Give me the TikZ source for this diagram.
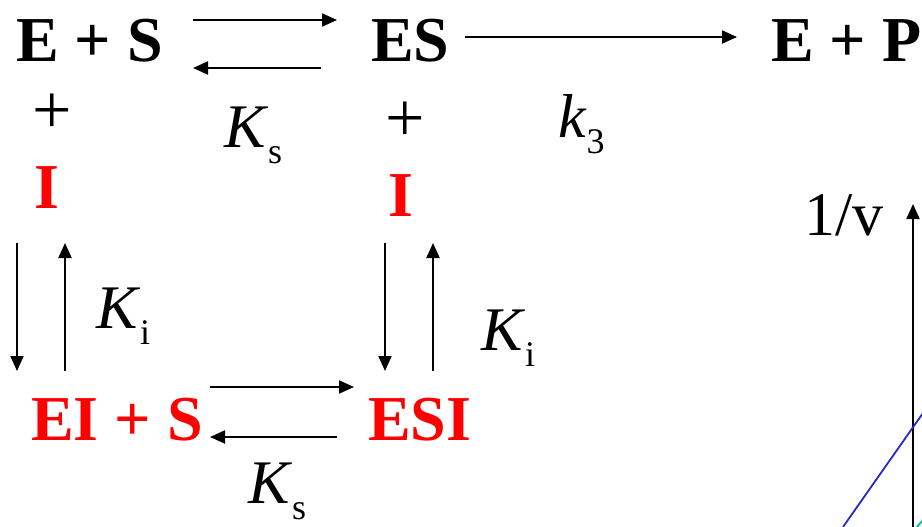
\documentclass[tikz,border=0pt]{standalone}
\usepackage{fontspec}
\setmainfont{Liberation Serif}
\usetikzlibrary{arrows.meta}
\definecolor{rxred}{RGB}{255,0,0}
\definecolor{lineblue}{RGB}{40,40,200}
\definecolor{linegreen}{RGB}{0,190,140}
\tikzset{
  species/.style={anchor=base west,inner sep=0pt,font=\fontsize{64}{70}\selectfont\bfseries},
  redsp/.style={species,text=rxred},
  plain/.style={anchor=base west,inner sep=0pt,font=\fontsize{62}{70}\selectfont},
  plus/.style={anchor=base west,inner sep=0pt,font=\fontsize{70}{76}\selectfont},
  rxarrow/.style={line width=2pt,-{Triangle[length=15pt,width=13pt]}},
}
\newcommand{\Ksub}[2]{\textit{#1}\raisebox{-16pt}{\fontsize{36}{40}\selectfont #2}}
\begin{document}
\begin{tikzpicture}[x=1pt,y=-1pt]
\useasboundingbox (0,0) rectangle (922,527);
% species
\node[species] (ES0) at (16,62) {E + S};
\node[species] (ES) at (371,62) {ES};
\node[species] (EP) at (771,62) {E + P};
\node[redsp] (I1) at (34,208) {I};
\node[redsp] (I2) at (388,216) {I};
\node[redsp] (EIS) at (31,440) {EI + S};
\node[redsp] (ESI) at (368,440) {ESI};
% plus signs
\node[plus] (p1) at (32,134) {+};
\node[plus] (p2) at (385,141) {+};
% constants
\node[plain] (Ks1) at (224,147) {\Ksub{K}{s}};
\node[plain] (k3) at (558,138) {\Ksub{k}{3}};
\node[plain] (Ki1) at (96,328) {\Ksub{K}{i}};
\node[plain] (Ki2) at (481,350) {\Ksub{K}{i}};
\node[plain] (Ks2) at (248,503) {\Ksub{K}{s}};
\node[plain] (yl) at (804,235) {1/v};
% arrow end points
\coordinate (a1s) at (193,20); \coordinate (a1e) at (337,20);
\coordinate (a2s) at (321,68); \coordinate (a2e) at (193,68);
\coordinate (a3s) at (465,37); \coordinate (a3e) at (737,37);
\coordinate (a4s) at (17,243); \coordinate (a4e) at (17,371);
\coordinate (a5s) at (65,371); \coordinate (a5e) at (65,243);
\coordinate (a6s) at (385,243); \coordinate (a6e) at (385,371);
\coordinate (a7s) at (433,371); \coordinate (a7e) at (433,243);
\coordinate (a8s) at (210,387); \coordinate (a8e) at (354,387);
\coordinate (a9s) at (337,437); \coordinate (a9e) at (210,437);
\draw[rxarrow] (a1s) -- (a1e);
\draw[rxarrow] (a2s) -- (a2e);
\draw[rxarrow] (a3s) -- (a3e);
\draw[rxarrow] (a4s) -- (a4e);
\draw[rxarrow] (a5s) -- (a5e);
\draw[rxarrow] (a6s) -- (a6e);
\draw[rxarrow] (a7s) -- (a7e);
\draw[rxarrow] (a8s) -- (a8e);
\draw[rxarrow] (a9s) -- (a9e);
% plot fragment
\coordinate (ax0) at (913,527); \coordinate (ax1) at (913,204);
\draw[rxarrow] (ax0) -- (ax1);
\coordinate (bl0) at (843,527); \coordinate (bl1) at (923,413);
\draw[lineblue,line width=1.8pt] (bl0) -- (bl1);
\coordinate (gr0) at (916,528); \coordinate (gr1) at (923,520);
\draw[linegreen,line width=1.8pt] (gr0) -- (gr1);
\end{tikzpicture}
\end{document}
